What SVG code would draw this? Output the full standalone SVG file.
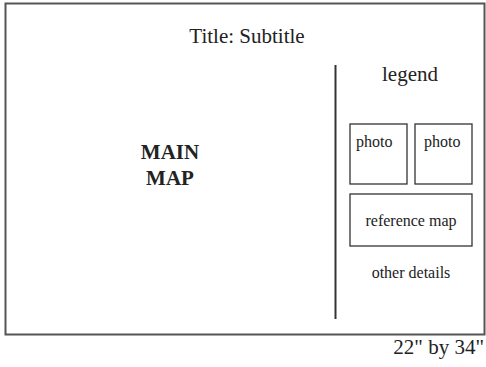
<svg xmlns="http://www.w3.org/2000/svg" width="486" height="367" viewBox="0 0 486 367">
<style>
text{font-family:"Liberation Serif","DejaVu Serif",serif;fill:#222}
.big{font-size:21px}
.sm{font-size:16px}
.box{fill:#fff;stroke:#333;stroke-width:1.3}
</style>
<rect x="0" y="0" width="486" height="367" fill="#fff"/>
<g id="frame"><rect x="5.5" y="3.5" width="479" height="331" fill="#fff" stroke="#555" stroke-width="2"/></g>
<g id="connectors"><line x1="335.5" y1="65" x2="335.5" y2="319" stroke="#333" stroke-width="2"/></g>
<g id="title"><text class="big" x="247" y="43" text-anchor="middle">Title: Subtitle</text></g>
<g id="legend"><text class="big" x="410" y="81" text-anchor="middle">legend</text></g>
<g id="main-map"><text class="big" x="170" y="159" text-anchor="middle" font-weight="bold">MAIN</text><text class="big" x="170" y="185" text-anchor="middle" font-weight="bold">MAP</text></g>
<g id="photo1"><rect class="box" x="350" y="124" width="57" height="60"/><text class="sm" x="356" y="147">photo</text></g>
<g id="photo2"><rect class="box" x="415" y="124" width="57" height="60"/><text class="sm" x="424" y="147">photo</text></g>
<g id="reference-map"><rect class="box" x="350" y="194" width="122" height="52"/><text class="sm" x="411" y="226" text-anchor="middle">reference map</text></g>
<g id="other-details"><text class="sm" x="411" y="278" text-anchor="middle">other details</text></g>
<g id="size"><text class="big" x="484" y="354" text-anchor="end">22" by 34"</text></g>
</svg>
